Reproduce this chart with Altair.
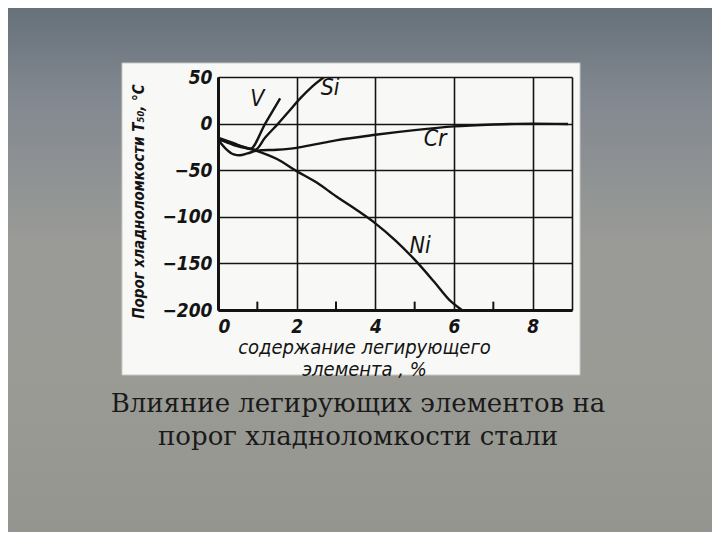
import altair as alt
import pandas as pd

# ---- data ----
ni_x = [0, 0.5, 0.9, 1.5, 2.0, 2.5, 3.0, 3.5, 4.0, 4.5, 5.0, 5.5, 5.9, 6.2]
ni_y = [-17, -23, -28, -38, -51, -63, -78, -92, -107, -125, -146, -170, -190, -200]

cr_x = [0, 0.2, 0.4, 0.55, 0.75, 1.0, 1.5, 2.0, 2.5, 3.0, 4.0, 5.0, 6.0, 7.0, 8.0, 8.9]
cr_y = [-17, -27, -33, -34, -32, -29, -28, -26, -22, -18, -12, -7, -3, -1, 0, -0.5]

si_x = [0, 0.4, 0.8, 0.95, 1.2, 1.53, 1.8, 2.09, 2.4, 2.7]
si_y = [-16, -23, -27, -28, -15, 0, 13, 27, 40, 50]

v_x = [0, 0.4, 0.7, 0.82, 1.2, 1.58]
v_y = [-15, -21, -26, -27, 0, 27]

label_text = ["V", "Si", "Cr", "Ni"]
label_x = [1.0, 2.85, 5.52, 5.14]
label_y = [26, 38, -17, -131]

x_ticks = [0, 2, 4, 6, 8, 9]
minor_ticks = [1, 3, 5, 7]
y_ticks = [-200, -150, -100, -50, 0, 50]

caption = ["Влияние легирующих элементов на", "порог хладноломкости стали"]
caption_row = [0, 1]

rows = []
for name, xs, ys in [("Ni", ni_x, ni_y), ("Cr", cr_x, cr_y), ("Si", si_x, si_y), ("V", v_x, v_y)]:
    for i, (a, b) in enumerate(zip(xs, ys)):
        rows.append({"element": name, "x": a, "y": b, "order": i})
curves = pd.DataFrame(rows)
labels = pd.DataFrame({"text": label_text, "x": label_x, "y": label_y})
minor = pd.DataFrame({"x": minor_ticks, "y": [-200] * 4, "y2": [-191] * 4})

W, H = 354, 233
PL, PT = 210, 69
PR = 704 - PL - W
PB = 524 - PT - H

FONT = "Liberation Sans Narrow, DejaVu Sans Condensed, Liberation Sans"
INK = "#141414"

xs = alt.Scale(domain=[0, 9], nice=False, zero=False)
ys = alt.Scale(domain=[-200, 50], nice=False, zero=False)

one = alt.Data(values=[{}])

bg = alt.Chart(one).mark_rect(
    color=alt.LinearGradient(
        gradient="linear", x1=0, x2=0, y1=0, y2=1,
        stops=[
            alt.GradientStop(color="#66717a", offset=0),
            alt.GradientStop(color="#828890", offset=0.17),
            alt.GradientStop(color="#9a9b97", offset=0.45),
            alt.GradientStop(color="#9b9b96", offset=0.7),
            alt.GradientStop(color="#959590", offset=1),
        ],
    )
).encode(x=alt.value(-PL), x2=alt.value(W + PR), y=alt.value(-PT), y2=alt.value(H + PB))

paper = alt.Chart(one).mark_rect(color="#f8f8f6", stroke="#c8c8c4", strokeWidth=1).encode(
    x=alt.value(122 - 218), x2=alt.value(580 - 218), y=alt.value(63 - 77), y2=alt.value(375 - 77)
)

lines = alt.Chart(curves).mark_line(color=INK, strokeWidth=2.4, interpolate="monotone", clip=True).encode(
    x=alt.X("x:Q", scale=xs,
            axis=alt.Axis(
                values=x_ticks, grid=True, ticks=False, domainWidth=3, domainColor=INK,
                gridColor=INK, gridWidth=1.6, gridOpacity=1,
                labelExpr="datum.value == 9 ? '' : datum.label",
                labelFont=FONT, labelFontSize=19, labelFontStyle="italic", labelFontWeight="bold",
                labelColor=INK, labelPadding=7,
                title=["содержание  легирующего", "элемента , %"],
                titleFont=FONT, titleFontSize=20, titleFontStyle="italic", titleFontWeight="normal",
                titleColor=INK, titleX=146, titleY=27, titleAlign="center", titleBaseline="top",
                titleLineHeight=22, zindex=1,
            )),
    y=alt.Y("y:Q", scale=ys,
            axis=alt.Axis(
                values=y_ticks, grid=True, ticks=False, domainWidth=3, domainColor=INK,
                gridColor=INK, gridWidth=1.6, gridOpacity=1,
                labelFont=FONT, labelFontSize=19, labelFontStyle="italic", labelFontWeight="bold",
                labelColor=INK, labelPadding=6,
                title="Порог  хладноломкости  T₅₀, °C",
                titleFont=FONT, titleFontSize=15, titleFontStyle="italic", titleFontWeight="bold",
                titleColor=INK, titleX=-80, titleY=124, titleAngle=270, titleAlign="center",
                titleBaseline="middle", zindex=1,
            )),
    detail="element:N",
    order="order:Q",
)

ticks = alt.Chart(minor).mark_rule(color=INK, strokeWidth=2).encode(
    x=alt.X("x:Q", scale=xs), y=alt.Y("y:Q", scale=ys), y2="y2:Q"
)

curve_labels = alt.Chart(labels).mark_text(
    font=FONT, fontSize=23, fontStyle="italic", color=INK, align="center", baseline="middle"
).encode(x=alt.X("x:Q", scale=xs), y=alt.Y("y:Q", scale=ys), text="text:N")

cap = alt.Chart(pd.DataFrame({"t": caption, "row": caption_row})).mark_text(
    font="DejaVu Serif", fontSize=26, color="#1a1a1a", align="center", baseline="alphabetic"
).encode(
    x=alt.value(358 - 218),
    y=alt.Y("row:Q", scale=alt.Scale(domain=[0, 1], range=[412 - 77, 445 - 77]), axis=None),
    text="t:N",
)

chart = alt.layer(bg, paper, lines, ticks, curve_labels, cap).properties(
    width=W, height=H,
    autosize=alt.AutoSizeParams(type="none"),
    padding={"left": PL, "top": PT, "right": PR, "bottom": PB},
).configure_view(stroke=None).resolve_scale(y="independent")

chart.save("out.html", embed_options={"renderer": "svg", "actions": False})
